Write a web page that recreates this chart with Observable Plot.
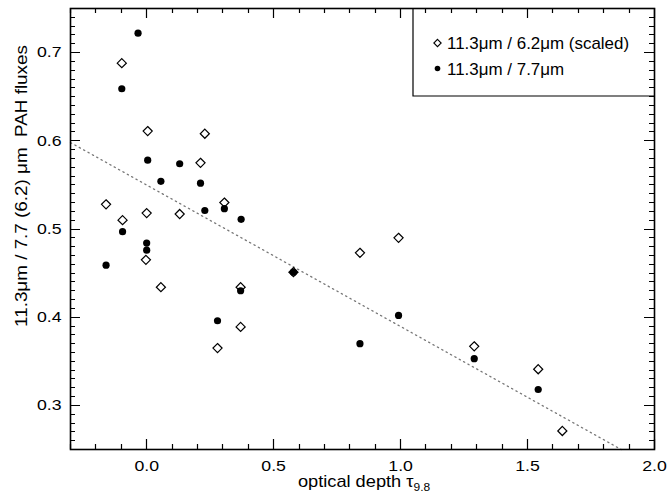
<!DOCTYPE html>
<html>
<head>
<meta charset="utf-8">
<script src="https://cdn.jsdelivr.net/npm/d3@7"></script>
<script src="https://cdn.jsdelivr.net/npm/@observablehq/plot@0.6"></script>
<style>
  html, body { margin: 0; padding: 0; background: #fff; }
  #chart { position: relative; width: 668px; height: 502px; }
</style>
</head>
<body>
<div id="chart"></div>
<script>
// 11.3um / 6.2um (scaled) — open diamonds
const tau62 = [-0.098, 0.004, 0.229, 0.212, -0.160, 0.306, -0.095, 0.000, 0.130, -0.003, 0.056, 0.370, 0.370, 0.279, 0.578, 0.840, 0.992, 1.290, 1.542, 1.637];
const ratio62 = [0.688, 0.611, 0.608, 0.575, 0.528, 0.530, 0.510, 0.518, 0.517, 0.465, 0.434, 0.434, 0.389, 0.365, 0.451, 0.473, 0.490, 0.367, 0.341, 0.271];
// 11.3um / 7.7um — filled circles
const tau77 = [-0.034, -0.098, 0.004, 0.130, 0.212, 0.056, 0.229, 0.306, 0.372, -0.095, 0.000, 0.000, -0.160, 0.578, 0.370, 0.279, 0.840, 0.992, 1.290, 1.542];
const ratio77 = [0.722, 0.659, 0.578, 0.574, 0.552, 0.554, 0.521, 0.523, 0.511, 0.497, 0.484, 0.476, 0.459, 0.451, 0.430, 0.396, 0.370, 0.402, 0.353, 0.318];
// linear fit (dotted)
const fitTau = [-0.3, 1.869];
const fitRatio = [0.598, 0.250];
// axes
const xDomain = [-0.3, 2.0];
const yDomain = [0.25, 0.75];
const xMajor = [0.0, 0.5, 1.0, 1.5, 2.0];
const yMajor = [0.3, 0.4, 0.5, 0.6, 0.7];
const xMinor = d3.range(-3, 21).map(i => i / 10).filter(v => !xMajor.some(m => Math.abs(m - v) < 1e-9));
const yMinor = d3.range(25, 76).map(i => i / 100).filter(v => !yMajor.some(m => Math.abs(m - v) < 1e-9));
const legendLabels = ["11.3\u03bcm / 6.2\u03bcm (scaled)", "11.3\u03bcm / 7.7\u03bcm"];
const xLabel = "optical depth \u03c4";
const xLabelSub = "9.8";
const yLabel = "11.3\u03bcm / 7.7 (6.2) \u03bcm  PAH fluxes";

const W = 668, H = 502;
const mL = 70, mR = 14, mT = 8, mB = 53;
const pw = W - mL - mR, ph = H - mT - mB;
const majLen = 10, minLen = 5;
const FONT = '"Liberation Sans", Arial, Helvetica, sans-serif';

const d62 = tau62.map((t, i) => ({t, r: ratio62[i]}));
const d77 = tau77.map((t, i) => ({t, r: ratio77[i]}));
const fit = fitTau.map((t, i) => ({t, r: fitRatio[i]}));

const plot = Plot.plot({
  width: W, height: H,
  marginLeft: mL, marginRight: mR, marginTop: mT, marginBottom: mB,
  style: {fontFamily: FONT, fontSize: "15px"},
  x: {domain: xDomain, axis: null},
  y: {domain: yDomain, axis: null},
  marks: [
    Plot.line(fit, {x: "t", y: "r", stroke: "#777", strokeWidth: 1.3, strokeDasharray: "1.3,3.7"}),
    Plot.dot(d62, {x: "t", y: "r", symbol: "diamond2", r: 4.1, stroke: "#000", strokeWidth: 1.2, fill: "#fff"}),
    Plot.dot(d77, {x: "t", y: "r", symbol: "circle", r: 3.6, fill: "#000"}),
    // tick labels
    Plot.axisX({anchor: "bottom", ticks: xMajor, tickSize: 0, tickPadding: 11, tickFormat: d3.format(".1f"), label: null, fontSize: 15}),
    Plot.axisY({anchor: "left", ticks: yMajor, tickSize: 0, tickPadding: 9, tickFormat: d3.format(".1f"), label: null, fontSize: 15}),
    Plot.frame({stroke: "#000", strokeWidth: 1.6})
  ]
});

document.getElementById("chart").appendChild(plot);

const svg = d3.select(plot);
const xsc = plot.scale("x"), ysc = plot.scale("y");
const xLin = d3.scaleLinear(xsc.domain, xsc.range);
const yLin = d3.scaleLinear(ysc.domain, ysc.range);
const px = v => { const p = xsc.apply ? xsc.apply(v) : NaN; return Number.isFinite(p) ? p : xLin(v); };
const py = v => { const p = ysc.apply ? ysc.apply(v) : NaN; return Number.isFinite(p) ? p : yLin(v); };
const edgeB = mT + ph, edgeT = mT, edgeL = mL, edgeR = mL + pw;

// inward ticks on all four sides, positioned through Plot's own scales (one path)
const tickPath = d3.path();
const xt = [...xMajor.map(v => [v, majLen]), ...xMinor.map(v => [v, minLen])];
const yt = [...yMajor.map(v => [v, majLen]), ...yMinor.map(v => [v, minLen])];
for (const [v, len] of xt) {
  const X = Math.round(px(v)) + 0.5;
  tickPath.moveTo(X, edgeB); tickPath.lineTo(X, edgeB - len);
  tickPath.moveTo(X, edgeT); tickPath.lineTo(X, edgeT + len);
}
for (const [v, len] of yt) {
  const Y = Math.round(py(v)) + 0.5;
  tickPath.moveTo(edgeL, Y); tickPath.lineTo(edgeL + len, Y);
  tickPath.moveTo(edgeR, Y); tickPath.lineTo(edgeR - len, Y);
}
svg.append("path")
  .attr("d", tickPath.toString())
  .attr("fill", "none").attr("stroke", "#000").attr("stroke-width", 1.2);

// widen the tick labels slightly (the reference font is broader)
svg.selectAll("g[aria-label$='tick label'] text").each(function () {
  const t = this.getAttribute("transform") || "";
  this.setAttribute("transform", t + " scale(1.18,1)");
});

// x label with subscript
const xl = svg.append("text")
  .attr("transform", `translate(${mL + pw / 2 + 2},487) scale(1.14,1)`)
  .attr("text-anchor", "middle").attr("font-size", 16).attr("fill", "#000");
xl.append("tspan").text(xLabel);
xl.append("tspan").attr("font-size", 10.5).attr("dy", 3.5).text(xLabelSub);

// y label rotated
svg.append("text")
  .attr("transform", `translate(27,186) rotate(-90) scale(1.11,1)`)
  .attr("text-anchor", "middle").attr("font-size", 17).attr("fill", "#000")
  .attr("style", "white-space: pre")
  .text(yLabel);

// legend box
const lx = 413, ly = 96;
svg.append("path")
  .attr("d", `M${lx},${mT}V${ly}H${mL + pw}`)
  .attr("fill", "none").attr("stroke", "#000").attr("stroke-width", 1.2);
const lg = svg.append("g").attr("font-size", 16).attr("fill", "#000").attr("text-anchor", "start");
const dsz = Math.PI * 3.3 * 3.3;
lg.append("path")
  .attr("transform", "translate(437.5,43)")
  .attr("d", d3.symbol(d3.symbolDiamond2, dsz)())
  .attr("fill", "none").attr("stroke", "#000").attr("stroke-width", 1.1);
lg.append("circle").attr("cx", 437.5).attr("cy", 68.5).attr("r", 2.8).attr("fill", "#000");
lg.append("text").attr("transform", "translate(447,49) scale(1.06,1)").text(legendLabels[0]);
lg.append("text").attr("transform", "translate(447,75) scale(1.06,1)").text(legendLabels[1]);
</script>
</body>
</html>
